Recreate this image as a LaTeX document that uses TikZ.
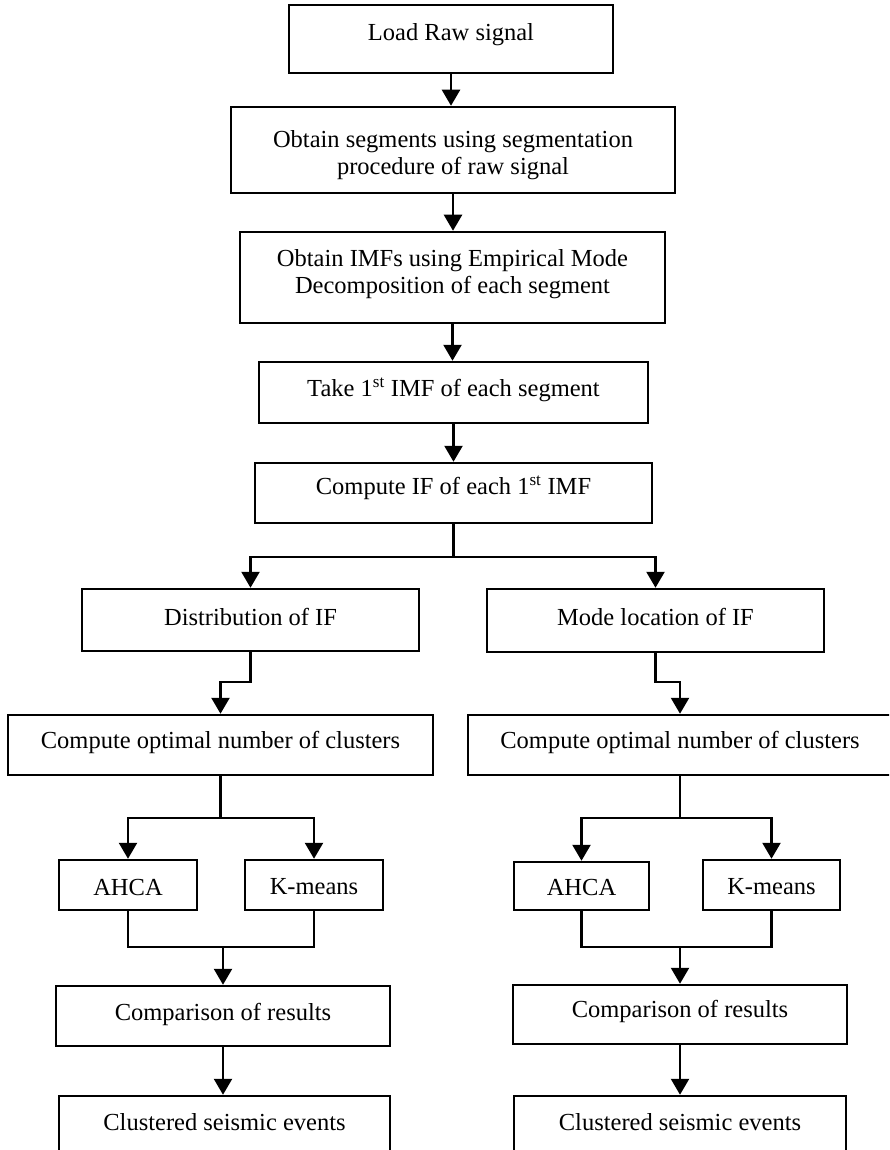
\documentclass[tikz,border=0pt]{standalone}
\usepackage{fontspec}
\setmainfont{Liberation Serif}
\usetikzlibrary{arrows.meta}
\newcommand\rz[2]{\raisebox{#1}[\height][\depth]{#2}}
\newcommand\twol[2]{\begin{tabular}{@{}c@{}}#1\\#2\end{tabular}}
\begin{document}
\begin{tikzpicture}[x=1pt,y=-1pt,
  pbox/.style={draw, line width=2.5pt, inner sep=0pt, align=center, font=\fontsize{24.5}{26.5}\selectfont},
  arr/.style={line width=2.5pt, -{Triangle[width=18pt,length=16pt]}},
  ln/.style={line width=2.5pt}]
\useasboundingbox (0,0) rectangle (889,1150);
\fill[white] (0,0) rectangle (889,1150);
\clip (0,0) rectangle (889,1150);

% main column
\node[pbox, minimum width=324pt, minimum height=68pt] (load) at (451,39) {\rz{4pt}{Load Raw signal}};
\node[pbox, minimum width=444pt, minimum height=86pt] (seg) at (453,150) {\rz{-5.5pt}{\twol{Obtain segments using segmentation}{procedure of raw signal}}};
\node[pbox, minimum width=425pt, minimum height=91pt] (emd) at (452.5,277.5) {\rz{3pt}{\twol{Obtain IMFs using Empirical Mode}{Decomposition of each segment}}};
\node[pbox, minimum width=389pt, minimum height=61pt] (take) at (453.5,392.5) {\rz{2.5pt}{Take 1\textsuperscript{st} IMF of each segment}};
\node[pbox, minimum width=397pt, minimum height=60pt] (cif) at (453.5,493) {\rz{5pt}{Compute IF of each 1\textsuperscript{st} IMF}};

% branches
\node[pbox, minimum width=337pt, minimum height=62pt] (dist) at (250.5,620) {\rz{3pt}{Distribution of IF}};
\node[pbox, minimum width=337pt, minimum height=63pt] (mode) at (655.5,620.5) {\rz{3.5pt}{Mode location of IF}};
\node[pbox, minimum width=425pt, minimum height=60pt] (optL) at (220.5,745) {\rz{2.5pt}{Compute optimal number of clusters}};
\node[pbox, minimum width=424pt, minimum height=60pt] (optR) at (680,745) {\rz{2.5pt}{Compute optimal number of clusters}};

\node[pbox, minimum width=138pt, minimum height=50pt] (ahcaL) at (128,885) {\rz{-2pt}{AHCA}};
\node[pbox, minimum width=138pt, minimum height=50pt] (kmL) at (314,885) {\rz{-2pt}{K-means}};
\node[pbox, minimum width=135pt, minimum height=48pt] (ahcaR) at (581.5,886) {\rz{-1pt}{AHCA}};
\node[pbox, minimum width=137pt, minimum height=50pt] (kmR) at (771.5,885) {\rz{-2pt}{K-means}};

\node[pbox, minimum width=334pt, minimum height=60pt] (compL) at (223,1016) {\rz{2pt}{Comparison of results}};
\node[pbox, minimum width=334pt, minimum height=59pt] (compR) at (680,1014.5) {\rz{3pt}{Comparison of results}};
\node[pbox, minimum width=331pt, minimum height=60pt] (clustL) at (224.5,1126) {\rz{3.5pt}{Clustered seismic events}};
\node[pbox, minimum width=332pt, minimum height=60pt] (clustR) at (680,1126) {\rz{3.5pt}{Clustered seismic events}};

% connectors
\draw[arr] (load.south) -- (load.south |- seg.north);
\draw[arr] (seg.south) -- (seg.south |- emd.north);
\draw[arr] (emd.south) -- (emd.south |- take.north);
\draw[arr] (take.south) -- (take.south |- cif.north);

\coordinate (sp1) at (453.5,557);
\draw[ln] (cif.south) -- (sp1);
\draw[arr] (sp1) -| (dist.north);
\draw[arr] (sp1) -| (mode.north);

\coordinate (sp2) at (250.5,682);
\draw[arr] (dist.south) -- (sp2) -| (optL.north);
\coordinate (sp3) at (655.5,682);
\draw[arr] (mode.south) -- (sp3) -| (optR.north);

\coordinate (sp4) at (220.5,818);
\draw[ln] (optL.south) -- (sp4);
\draw[arr] (sp4) -| (ahcaL.north);
\draw[arr] (sp4) -| (kmL.north);
\coordinate (sp5) at (680,818);
\draw[ln] (optR.south) -- (sp5);
\draw[arr] (sp5) -| (ahcaR.north);
\draw[arr] (sp5) -| (kmR.north);

\coordinate (mg1) at (223,947);
\draw[ln] (ahcaL.south) |- (mg1) -| (kmL.south);
\draw[arr] (mg1) -- (compL.north);
\coordinate (mg2) at (680,947);
\draw[ln] (ahcaR.south) |- (mg2) -| (kmR.south);
\draw[arr] (mg2) -- (compR.north);

\draw[arr] (compL.south) -- (compL.south |- clustL.north);
\draw[arr] (compR.south) -- (clustR.north);
\end{tikzpicture}
\end{document}
